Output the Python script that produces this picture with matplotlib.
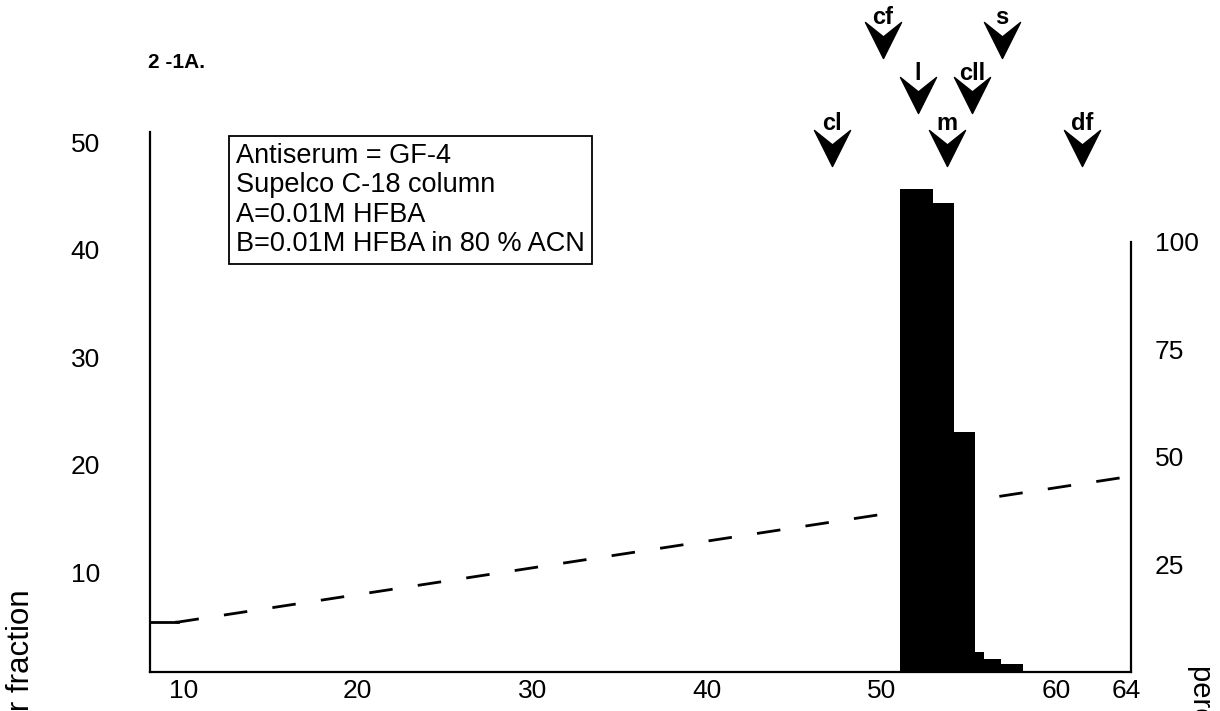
import numpy as np
import matplotlib.pyplot as plt
from matplotlib.path import Path
from matplotlib.transforms import ScaledTranslation, blended_transform_factory

plt.rcParams['font.family'] = ['Liberation Sans', 'DejaVu Sans']
plt.rcParams['lines.scale_dashes'] = False

# fraction boundaries (min) and immunoreactivity in each fraction
frac_edges = [51.07, 52.96, 54.16, 55.37, 55.88, 56.86, 58.12]
frac_values = [44.9, 43.6, 22.3, 1.9, 1.2, 0.75]

# gradient, % B
grad_time = [8.1, 9.7, 64.3]
grad_pct = [11.6, 11.6, 45.5]

# elution positions of the standards
std_names = ['cl', 'cf', 'l', 'm', 'cll', 's', 'df']
std_times = [47.17, 50.09, 52.10, 53.76, 55.19, 56.91, 61.49]
std_rows = [2, 0, 1, 2, 1, 0, 2]

x_ticks = [10, 20, 30, 40, 50, 60, 64]
y_ticks = [10, 20, 30, 40, 50]
pct_ticks = [25, 50, 75, 100]

W, H = 1220, 711
fig = plt.figure(figsize=(W / 100, H / 100), dpi=100)


def fx(px):
    return px / W


def fy(py):
    return 1 - py / H


ax = fig.add_axes([fx(150), fy(672), fx(981), 540 / H])
ax2 = ax.twinx()

ax.set_xlim(8.1, 64.3)
ax.set_ylim(0, 50.2)
ax2.set_ylim(0, 50.2 * 2.5)

# fractions
ax.bar(frac_edges[:-1], frac_values, width=np.diff(frac_edges), align='edge',
       color='black', linewidth=0, zorder=3)

# gradient line, drawn under the bars but in % B units
ax.plot(grad_time, grad_pct, color='black', lw=2.0,
        linestyle=(17.0, (17.0, 18.3)), transform=ax2.transData, zorder=1)
ax.plot(grad_time[:2], grad_pct[:2], color='black', lw=2.0,
        transform=ax2.transData, zorder=1)

for a in (ax, ax2):
    for s in a.spines.values():
        s.set_visible(False)
ax.spines['left'].set_visible(True)
ax.spines['bottom'].set_visible(True)
ax2.spines['right'].set_visible(True)
ax2.spines['right'].set_bounds(0, 100)
for s in (ax.spines['left'], ax.spines['bottom'], ax2.spines['right']):
    s.set_linewidth(1.6)

ax.set_xticks(x_ticks)
ax.set_xticklabels([str(t) for t in x_ticks])
ax.set_yticks(y_ticks)
ax.set_yticklabels([str(t) for t in y_ticks])
ax2.set_yticks(pct_ticks)
ax2.set_yticklabels([str(t) for t in pct_ticks])
ax.tick_params(axis='x', length=0, pad=5, labelsize=19)
ax.tick_params(axis='y', length=0, pad=36, labelsize=19)
ax2.tick_params(axis='y', length=0, pad=17, labelsize=19)
for lab in ax.get_yticklabels():
    lab.set_transform(lab.get_transform() + ScaledTranslation(0, -0.08, fig.dpi_scale_trans))

# standard markers above the peak
arrow = Path([(-0.5, 0.5), (0, 0.1), (0.5, 0.5), (0, -0.5), (-0.5, 0.5)],
             [Path.MOVETO, Path.LINETO, Path.LINETO, Path.LINETO, Path.CLOSEPOLY])
row_center = [40, 95, 148]
row_label = [24, 80, 130]
trans = blended_transform_factory(ax.transData, fig.transFigure)
for name, t, r in zip(std_names, std_times, std_rows):
    ax.plot([t], [fy(row_center[r])], marker=arrow, ms=26, color='black',
            linestyle='none', transform=trans, clip_on=False)
    ax.text(t, fy(row_label[r]), name, transform=trans, ha='center',
            va='baseline', fontsize=17, fontweight='bold')

fig.text(fx(148), fy(68), '2 -1A.', fontsize=15, fontweight='bold',
         ha='left', va='baseline')

fig.text(fx(236), fy(143),
         'Antiserum = GF-4\nSupelco C-18 column\nA=0.01M HFBA\nB=0.01M HFBA in 80 % ACN',
         fontsize=19.5, ha='left', va='top', linespacing=1.17,
         bbox=dict(boxstyle='square,pad=0.25', fc='white', ec='black', lw=1.3))

fig.text(fx(29), fy(589), 'per fraction', rotation=90, rotation_mode='anchor',
         ha='right', va='baseline', fontsize=22.5)
fig.text(fx(1193), fy(665), 'percent B', rotation=270, rotation_mode='anchor',
         ha='left', va='baseline', fontsize=21)

fig.savefig('out.png', dpi=100)
